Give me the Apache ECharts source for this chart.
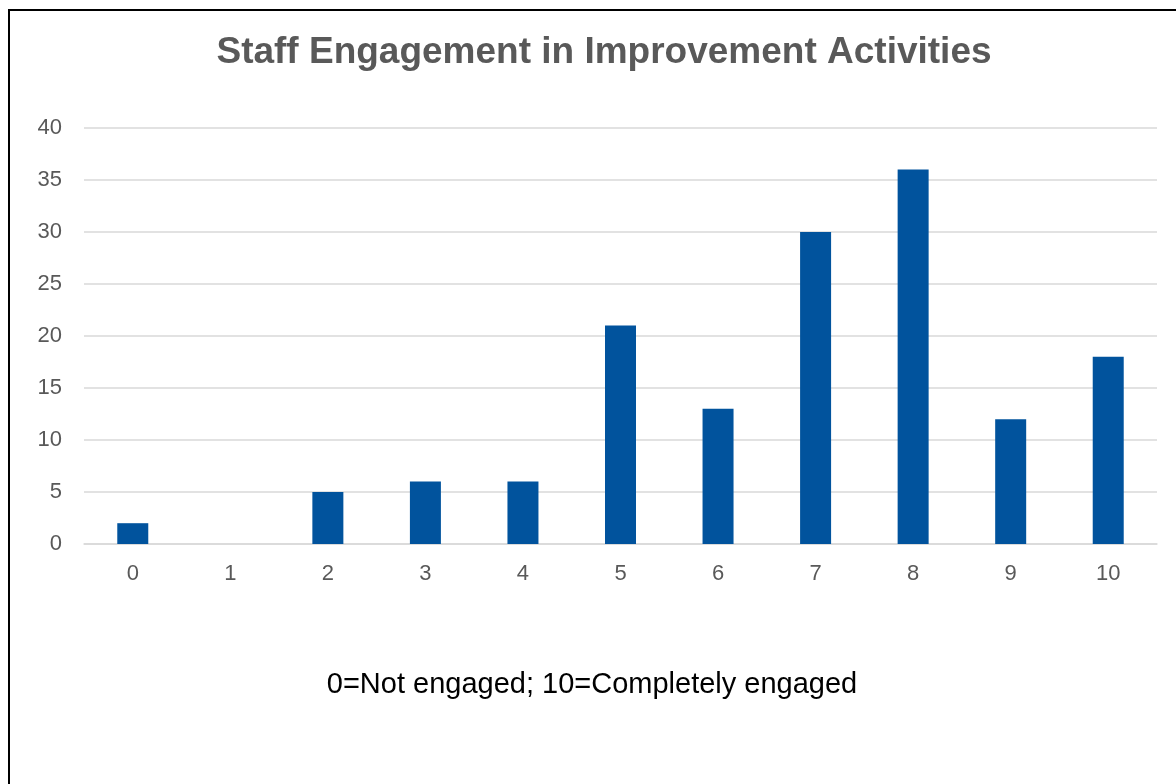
<!DOCTYPE html>
<html>
<head>
<meta charset="utf-8">
<title>Staff Engagement in Improvement Activities</title>
<script src="https://cdn.jsdelivr.net/npm/echarts@6/dist/echarts.min.js"></script>
<style>
  html, body { margin: 0; padding: 0; background: #ffffff; }
  #chart { width: 1176px; height: 784px; }
</style>
</head>
<body>
<div id="chart"></div>
<script>
// Engagement score (0 = not engaged, 10 = completely engaged)
const scores = ['0', '1', '2', '3', '4', '5', '6', '7', '8', '9', '10'];
// Number of staff giving each score
const staffCounts = [2, 0, 5, 6, 6, 21, 13, 30, 36, 12, 18];
// Value axis range
const yMin = 0;
const yMax = 40;
const yStep = 5;

const chart = echarts.init(document.getElementById('chart'), null, { renderer: 'canvas' });

const FONT = '"Liberation Sans", Arial, Helvetica, sans-serif';

chart.setOption({
  animation: false,
  backgroundColor: '#ffffff',
  title: {
    text: 'Staff Engagement in Improvement Activities',
    left: 599,
    top: 29,
    textAlign: 'center',
    textStyle: {
      fontFamily: FONT,
      fontSize: 37,
      fontWeight: 'bold',
      color: '#595959'
    }
  },
  grid: {
    left: 84,
    right: 19,
    top: 128,
    bottom: 240,
    containLabel: false
  },
  xAxis: {
    type: 'category',
    data: scores,
    boundaryGap: true,
    axisLine: { show: true, lineStyle: { color: '#d9d9d9', width: 1.5 } },
    axisTick: { show: false },
    axisLabel: {
      margin: 19,
      fontFamily: FONT,
      fontSize: 22,
      color: '#595959'
    }
  },
  yAxis: {
    type: 'value',
    min: yMin,
    max: yMax,
    interval: yStep,
    axisLine: { show: false },
    axisTick: { show: false },
    splitLine: { lineStyle: { color: '#d9d9d9', width: 1.5 } },
    axisLabel: {
      margin: 22,
      fontFamily: FONT,
      fontSize: 22,
      color: '#595959'
    }
  },
  series: [{
    type: 'bar',
    data: staffCounts,
    barWidth: 31,
    itemStyle: { color: '#01539d' },
    silent: true
  }],
  graphic: [
    {
      type: 'text',
      x: 592,
      y: 670,
      style: {
        text: '0=Not engaged; 10=Completely engaged',
        align: 'center',
        fontFamily: FONT,
        fontSize: 29,
        fill: '#000000'
      }
    },
    {
      type: 'rect',
      shape: { x: 9, y: 10, width: 1400, height: 1000 },
      style: { fill: 'none', stroke: '#000000', lineWidth: 2 },
      silent: true
    }
  ]
});
</script>
</body>
</html>
